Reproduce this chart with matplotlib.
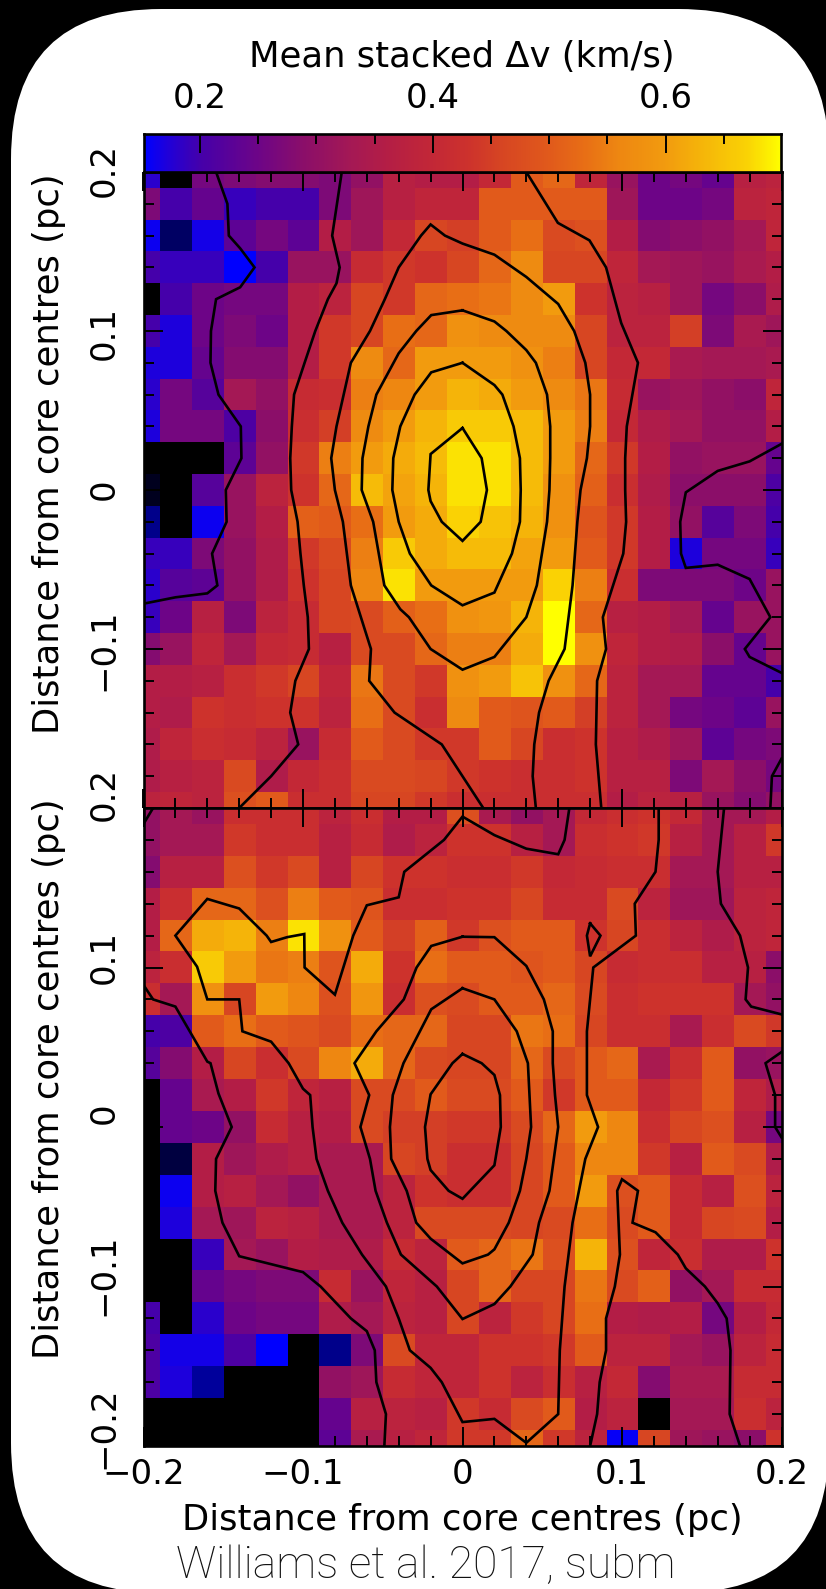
import numpy as np
import matplotlib

matplotlib.use("Agg")
import matplotlib.pyplot as plt
from matplotlib.colors import LinearSegmentedColormap, Normalize
from matplotlib.patches import FancyBboxPatch
from matplotlib.ticker import MultipleLocator

n = np.nan

# mean stacked linewidth, one row per y from +0.2 down to -0.2 (nan = no data)
top_values = [
    [.18, n, .26, .27, .28, .28, .27, .30, .37, .36, .36, .40, .50, .52, .39, .31, .25, .26, .24, .37, .38],
    [.27, .20, .24, .19, .20, .20, .27, .32, .37, .39, .39, .50, .50, .50, .50, .32, .25, .25, .26, .38, .39],
    [.16, .11, .165, .23, .26, .23, .36, .32, .40, .46, .45, .50, .53, .47, .48, .36, .28, .29, .30, .33, .39],
    [.20, .19, .19, .152, .20, .31, .31, .41, .44, .43, .46, .52, .57, .46, .46, .39, .33, .32, .31, .34, .36],
    [n, .20, .25, .26, .26, .36, .38, .46, .44, .52, .53, .54, .57, .60, .43, .38, .37, .32, .26, .29, .35],
    [.20, .17, .25, .27, .25, .36, .44, .46, .53, .52, .58, .57, .57, .57, .46, .38, .38, .45, .27, .34, .32],
    [.17, .17, .24, .28, .28, .36, .44, .57, .52, .60, .60, .60, .58, .55, .46, .40, .40, .34, .33, .33, .34],
    [.18, .26, .22, .33, .30, .41, .42, .55, .56, .60, .63, .62, .60, .57, .54, .41, .31, .32, .30, .29, .39],
    [.17, .26, .26, .21, .29, .42, .45, .57, .60, .63, .66, .66, .64, .60, .55, .40, .35, .33, .30, .30, .36],
    [n, n, n, .23, .30, .44, .55, .60, .62, .64, .68, .68, .64, .60, .52, .44, .36, .30, .31, .31, .24],
    [.09, n, .22, .31, .38, .43, .52, .64, .61, .63, .68, .68, .64, .58, .51, .42, .35, .29, .29, .29, .21],
    [.12, n, .16, .31, .36, .51, .50, .53, .60, .62, .67, .65, .63, .58, .49, .44, .36, .30, .22, .27, .20],
    [.19, .19, .27, .30, .35, .44, .47, .55, .66, .62, .64, .64, .61, .60, .50, .44, .36, .17, .26, .26, .19],
    [.18, .22, .23, .30, .35, .43, .46, .56, .68, .60, .60, .60, .60, .67, .55, .42, .27, .27, .27, .25, .31],
    [.19, .25, .37, .27, .38, .41, .46, .47, .51, .53, .58, .59, .63, .70, .52, .37, .36, .33, .24, .31, .31],
    [.28, .31, .39, .33, .40, .41, .37, .47, .47, .52, .55, .55, .62, .70, .58, .39, .36, .35, .29, .24, .31],
    [.36, .36, .37, .42, .44, .46, .39, .54, .47, .44, .58, .60, .65, .58, .52, .38, .33, .33, .24, .24, .20],
    [.36, .35, .43, .42, .43, .43, .38, .53, .47, .42, .57, .50, .49, .50, .45, .38, .33, .26, .25, .23, .31],
    [.35, .39, .42, .41, .38, .31, .41, .50, .47, .44, .44, .50, .46, .42, .43, .37, .35, .32, .23, .26, .27],
    [.35, .37, .38, .47, .35, .40, .42, .47, .47, .46, .44, .43, .42, .42, .43, .37, .37, .27, .33, .29, .26],
    [.38, .39, .38, .48, .50, .42, .42, .46, .46, .44, .42, .42, .42, .42, .42, .36, .38, .37, .31, .28, .30],
]
bottom_values = [
    [.30, .33, .31, .42, .42, .42, .38, .42, .36, .36, .48, .34, .30, .33, .40, .42, .43, .40, .33, .33, .36],
    [.30, .33, .33, .44, .42, .42, .37, .41, .35, .38, .43, .43, .37, .33, .42, .43, .44, .37, .33, .37, .44],
    [.28, .37, .37, .48, .44, .47, .37, .46, .43, .43, .42, .42, .44, .40, .41, .42, .42, .33, .33, .37, .37],
    [.36, .42, .52, .52, .48, .55, .50, .49, .42, .42, .43, .43, .46, .41, .41, .47, .38, .32, .32, .38, .39],
    [.36, .52, .62, .63, .55, .68, .58, .50, .45, .51, .44, .48, .50, .50, .43, .46, .42, .38, .35, .38, .39],
    [.38, .42, .66, .60, .54, .55, .49, .62, .43, .53, .50, .50, .49, .50, .46, .41, .42, .42, .37, .37, .29],
    [.42, .33, .58, .46, .60, .56, .48, .59, .42, .48, .47, .50, .50, .52, .47, .42, .43, .43, .43, .33, .30],
    [.20, .21, .50, .53, .50, .49, .47, .53, .52, .52, .46, .46, .54, .53, .46, .42, .42, .34, .42, .47, .44],
    [.22, .28, .36, .46, .42, .47, .56, .62, .52, .47, .46, .46, .52, .47, .50, .52, .34, .42, .50, .30, .31],
    [n, .24, .34, .36, .44, .39, .37, .47, .47, .50, .47, .47, .50, .44, .50, .50, .40, .44, .50, .39, .35],
    [n, .24, .25, .30, .41, .37, .36, .47, .45, .45, .44, .44, .47, .52, .60, .56, .42, .46, .48, .37, .26],
    [n, .10, .36, .32, .35, .37, .34, .34, .46, .45, .42, .42, .46, .50, .56, .56, .44, .37, .50, .47, .35],
    [n, .16, .36, .37, .33, .30, .34, .34, .38, .43, .42, .42, .46, .50, .60, .48, .50, .41, .37, .48, .38],
    [n, .17, .33, .32, .38, .37, .34, .34, .38, .47, .47, .47, .46, .47, .53, .47, .50, .41, .46, .47, .36],
    [n, n, .19, .33, .31, .36, .35, .35, .41, .38, .50, .52, .54, .48, .63, .48, .39, .42, .35, .35, .43],
    [n, n, .24, .26, .27, .27, .41, .31, .39, .37, .46, .52, .46, .46, .54, .47, .51, .30, .33, .41, .41],
    [.20, n, .18, .25, .26, .26, .35, .33, .38, .37, .46, .38, .44, .46, .53, .36, .35, .36, .26, .36, .40],
    [.21, .165, .165, .21, .152, n, .12, .27, .47, .39, .39, .43, .43, .44, .50, .38, .38, .33, .31, .38, .41],
    [.21, .17, .125, n, n, n, .30, .32, .41, .39, .39, .43, .38, .42, .37, .40, .28, .34, .34, .41, .41],
    [n, n, n, n, n, n, .24, .37, .38, .37, .44, .41, .47, .50, .36, .38, n, .33, .33, .42, .38],
    [n, n, n, n, n, n, .23, .34, .37, .39, .44, .44, .52, .44, .38, .156, .46, .32, .31, .29, .43],
]

# contours, (x, y) in pc
top_contours = [
    [(-.1545, .2), (-.1474, .18), (-.1465, .16), (-.1394, .152), (-.1304, .14), (-.1394, .1275), (-.1545, .12),
     (-.1577, .10), (-.158, .08), (-.153, .06), (-.139, .04), (-.1386, .02), (-.1484, 0), (-.1479, -.02),
     (-.157, -.04), (-.1537, -.06), (-.16, -.065), (-.18, -.0675), (-.2, -.0715)],
    [(-.0757, .2), (-.0817, .16), (-.077, .14), (-.079, .13), (-.0844, .12), (-.0923, .10), (-.099, .08),
     (-.1056, .06), (-.107, .04), (-.108, .02), (-.1074, 0), (-.1034, -.02), (-.1016, -.04), (-.0995, -.06),
     (-.097, -.08), (-.0963, -.10), (-.1048, -.12), (-.108, -.14), (-.103, -.16), (-.12, -.18), (-.14, -.2)],
    [(.04, .2), (.0598, .168), (.0796, .157), (.09, .14), (.0995, .105), (.11, .08), (.103, .04), (.102, .02),
     (.102, 0), (.1026, -.02), (.1008, -.04), (.088, -.08), (.09, -.10), (.0844, -.12), (.0836, -.16), (.087, -.2)],
    [(.013, -.2), (-.013, -.16), (-.0426, -.14), (-.0585, -.12), (-.0574, -.10), (-.07, -.06), (-.075, -.02),
     (-.08, 0), (-.0823, .02), (-.079, .04), (-.07, .08), (-.058, .10), (-.0487, .12), (-.04, .14), (-.026, .16),
     (-.02, .167), (-.011, .16), (0, .155), (.02, .148), (.04, .134), (.06, .117), (.07, .10), (.077, .08),
     (.08, .06), (.08, .04), (.078, .02), (.074, 0), (.072, -.02), (.069, -.06), (.064, -.10), (.054, -.12),
     (.048, -.14), (.045, -.16), (.044, -.18), (.046, -.2)],
    [(0, .113), (-.0196, .11), (-.029, .10), (-.04, .086), (-.054, .06), (-.059, .04), (-.0627, .02), (-.0632, 0),
     (-.056, -.02), (-.049, -.06), (-.039, -.075), (-.0336, -.08), (-.02, -.10), (0, -.113), (.02, -.105),
     (.04, -.08), (.0466, -.06), (.053, -.02), (.0545, 0), (.055, .02), (.055, .04), (.053, .06), (.046, .08),
     (.04, .088), (.0275, .10), (.02, .106), (0, .113)],
    [(0, .08), (-.0196, .074), (-.03, .06), (-.039, .04), (-.0434, .02), (-.044, 0), (-.04, -.02), (-.033, -.04),
     (-.0196, -.06), (0, -.0725), (.02, -.0645), (.031, -.04), (.036, -.02), (.0365, 0), (.036, .02), (.032, .04),
     (.025, .06), (.02, .066), (0, .08)],
    [(0, .039), (-.02, .0226), (-.0214, 0), (-.02, -.007), (-.013, -.02), (0, -.032), (.0114, -.02), (.0153, 0),
     (.012, .02), (0, .039)],
    [(.2, .029), (.18, .018), (.16, .012), (.14, -.0015), (.1365, -.02), (.137, -.04), (.14, -.049), (.16, -.047),
     (.18, -.056), (.193, -.08), (.177, -.10), (.18, -.105), (.2, -.115)],
    [(.2, -.169), (.194, -.18), (.193, -.2)],
]
bottom_contours = [
    [(-.2, .089), (-.194, .08), (-.18, .0755), (-.16, .041), (-.158, .04), (-.153, .021), (-.1447, 0), (-.1545, -.02),
     (-.155, -.04), (-.1505, -.06), (-.14, -.081), (-.10, -.091), (-.089, -.10), (-.07, -.12), (-.06, -.128),
     (-.055, -.14), (-.054, -.16), (-.048, -.18), (-.049, -.2)],
    [(.067, .2), (.064, .18), (.06, .171), (.04, .1745), (.02, .183), (0, .1946), (-.0116, .18), (-.0365, .16),
     (-.04, .144), (-.06, .139), (-.0685, .12), (-.08, .083), (-.099, .10), (-.0992, .121), (-.11, .119),
     (-.12, .116), (-.1228, .12), (-.14, .137), (-.15, .14), (-.16, .143), (-.18, .12), (-.1664, .1005), (-.16, .08),
     (-.14, .08), (-.138, .06), (-.12, .0535), (-.109, .04), (-.10, .024), (-.0955, .02), (-.094, 0), (-.0915, -.02),
     (-.0844, -.04), (-.0754, -.06), (-.063, -.08), (-.048, -.10), (-.04, -.12), (-.033, -.14), (-.02, -.151),
     (-.013, -.16), (0, -.185), (.02, -.183), (.04, -.198), (.06, -.18), (.061, -.14), (.064, -.10), (.069, -.06),
     (.077, -.02), (.085, 0), (.078, .02), (.078, .06), (.082, .10), (.1087, .12), (.108, .14), (.121, .16),
     (.123, .18), (.123, .2)],
    [(.08, .1277), (.0865, .12), (.08, .107), (.078, .12), (.08, .1277)],
    [(0, .1193), (.02, .119), (.04, .101), (.051, .08), (.0566, .06), (.0566, .04), (.058, .02), (.06, 0), (.0545, -.04),
     (.048, -.06), (.044, -.08), (.03, -.10), (.02, -.111), (0, -.1204), (-.0161, -.10), (-.0386, -.08), (-.0474, -.06),
     (-.0545, -.04), (-.058, -.02), (-.064, 0), (-.0585, .02), (-.0677, .04), (-.054, .06), (-.0368, .08),
     (-.0288, .10), (-.0196, .1135), (0, .1193)],
    [(0, .087), (-.0196, .0738), (-.037, .04), (-.0437, .02), (-.0455, 0), (-.0447, -.02), (-.035, -.04), (-.029, -.06),
     (-.02, -.07), (0, -.0855), (.016, -.08), (.02, -.0767), (.029, -.06), (.036, -.04), (.04, -.02), (.043, 0),
     (.041, .04), (.034, .06), (.02, .08), (0, .087)],
    [(0, .0458), (-.0063, .04), (-.02, .0205), (-.0235, 0), (-.022, -.02), (-.02, -.027), (-.0087, -.04), (0, -.045),
     (.02, -.024), (.024, 0), (.0235, .02), (.02, .0326), (.012, .04), (0, .0458)],
    [(.08, -.2), (.0844, -.18), (.086, -.16), (.09, -.14), (.09, -.12), (.0955, -.10), (.0987, -.08), (.097, -.04),
     (.1, -.0328), (.11, -.04), (.1066, -.06), (.121, -.066), (.135, -.08), (.14, -.0886), (.152, -.10), (.16, -.1105),
     (.1656, -.12), (.168, -.14), (.1675, -.18), (.174, -.2)],
    [(.164, .2), (.16, .16), (.162, .14), (.174, .12), (.179, .1), (.1775, .08), (.181, .0755), (.2, .0706)],
    [(.2, .047), (.19, .04), (.196, .02), (.196, 0), (.2, -.0065)],
    [(-.2, .19), (-.194, .2)],
]

# colour table
cmap_values = [.09, .152, .17, .20, .25, .29, .33, .36, .40, .43, .46, .50, .53, .56, .60, .63, .67, .70]
cmap_colors = [(0, 0, 30), (0, 0, 255), (30, 0, 220), (70, 0, 170), (110, 5, 135), (140, 15, 105), (165, 25, 85),
               (180, 30, 70), (195, 40, 55), (205, 50, 45), (215, 70, 35), (225, 90, 28), (232, 110, 22),
               (238, 135, 18), (242, 155, 15), (245, 180, 10), (250, 210, 5), (255, 255, 0)]

cbar_min, cbar_max = 0.152, 0.699
bar_major = [0.2, 0.4, 0.6]
pos_ticks = [-0.2, -0.1, 0, 0.1, 0.2]
pos_labels = ["\u22120.2", "\u22120.1", "0", "0.1", "0.2"]
top_label_text = ["0.2", "0.1", "0", "\u22120.1"]
bottom_label_text = ["0.2", "0.1", "0", "\u22120.1", "\u22120.2"]

W, H = 826, 1589
fontsize = 24.5
titlesize = 25.5


def pxAxes(fig, left, right, top, bottom):
    return fig.add_axes([left / W, 1 - bottom / H, (right - left) / W, (bottom - top) / H])


def pxText(fig, x, y, s, **kwargs):
    kwargs.setdefault("ha", "center")
    kwargs.setdefault("va", "center")
    kwargs.setdefault("fontsize", fontsize)
    fig.text(x / W, 1 - y / H, s, **kwargs)


stops = [(v - cmap_values[0]) / (cmap_values[-1] - cmap_values[0]) for v in cmap_values]
cmap = LinearSegmentedColormap.from_list(
    "stack", [(s, tuple(c / 255 for c in col)) for s, col in zip(stops, cmap_colors)], N=512
)
cmap.set_bad("k")
norm = Normalize(cmap_values[0], cmap_values[-1])

fig = plt.figure(figsize=(W / 100, H / 100), dpi=100, facecolor="k")

# white rounded card behind everything
bg = fig.add_axes([0, 0, 1, 1])
bg.set_xlim(0, W)
bg.set_ylim(H, 0)
bg.axis("off")
r = 150
bg.add_patch(FancyBboxPatch((11 + r, 9 + r), 818 - 2 * r, 1584 - 2 * r,
                            boxstyle=f"round,pad={r},rounding_size={r}", fc="w", ec="none"))


def panel(ax, values, contours):
    ax.imshow(np.array(values), cmap=cmap, norm=norm, extent=(-0.21, 0.21, -0.21, 0.21),
              origin="upper", aspect="auto", interpolation="nearest")
    for line in contours:
        xs, ys = zip(*line)
        ax.plot(xs, ys, "k", lw=1.9, solid_joinstyle="miter")
    ax.set_xlim(-0.2, 0.2)
    ax.set_ylim(-0.2, 0.2)
    for a in (ax.xaxis, ax.yaxis):
        a.set_major_locator(MultipleLocator(0.1))
        a.set_minor_locator(MultipleLocator(0.02))
    ax.tick_params(which="both", direction="in", top=True, right=True, bottom=True, left=True,
                   labelbottom=False, labelleft=False, width=1.4)
    ax.tick_params(which="major", length=14)
    ax.tick_params(which="minor", length=7)
    for s in ax.spines.values():
        s.set_linewidth(1.9)


ax1 = pxAxes(fig, 143.5, 781.5, 172, 808)
panel(ax1, top_values, top_contours)
ax2 = pxAxes(fig, 143.5, 781.5, 808, 1446)
panel(ax2, bottom_values, bottom_contours)

# bottom axis numbers
ax2.set_xticks(pos_ticks)
ax2.set_xticklabels(pos_labels)
ax2.tick_params(axis="x", labelbottom=True, labelsize=fontsize, pad=9)

# colour bar
cax = pxAxes(fig, 144, 781, 133.5, 172)
cax.imshow(np.linspace(cbar_min, cbar_max, 512)[None, :], cmap=cmap, norm=norm,
           extent=(cbar_min, cbar_max, 0, 1), aspect="auto")
cax.set_xticks(bar_major)
cax.set_xticks(np.arange(0.2, 0.69, 0.05), minor=True)
cax.set_yticks([])
cax.tick_params(which="both", direction="in", bottom=False, top=True, labelbottom=False,
                labeltop=True, labelsize=fontsize, width=1.4, pad=13)
cax.tick_params(which="major", length=14)
cax.tick_params(which="minor", length=7)
for s in cax.spines.values():
    s.set_linewidth(1.9)

pxText(fig, 462, 57, "Mean stacked \u0394v (km/s)", fontsize=titlesize)
pxText(fig, 462, 1520, "Distance from core centres (pc)", fontsize=titlesize)
pxText(fig, 49, 454, "Distance from core centres (pc)", rotation=90, fontsize=titlesize)
pxText(fig, 49, 1079, "Distance from core centres (pc)", rotation=90, fontsize=titlesize)

# y numbers sit off their ticks in the original, so placed one by one
top_label_y = [170, 333, 489, 650]
for y, s in zip(top_label_y, top_label_text):
    pxText(fig, 104, y, s, rotation=90)
bottom_label_y = [794, 957, 1113, 1275, 1428]
for y, s in zip(bottom_label_y, bottom_label_text):
    pxText(fig, 104, y, s, rotation=90)

pxText(fig, 426, 1566, "Williams et al. 2017, subm", family="Roboto", weight="light", fontsize=32, color="#111111")

fig.savefig("out.png", dpi=100, facecolor="k")
